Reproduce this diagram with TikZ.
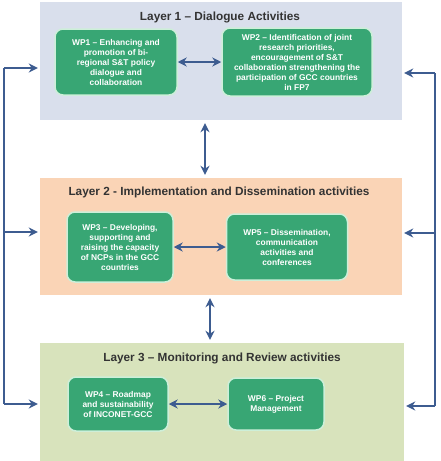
\documentclass[tikz,border=0pt]{standalone}
\usepackage{fontspec}
\setmainfont{Liberation Sans}
\usetikzlibrary{arrows.meta,positioning}
\definecolor{layerblue}{HTML}{D9DFEC}
\definecolor{layerpeach}{HTML}{FAD4B6}
\definecolor{layergreen}{HTML}{D8E3BC}
\definecolor{wpgreen}{HTML}{38A674}
\definecolor{wpedge}{HTML}{CDEFD9}
\definecolor{linkblue}{HTML}{3D5C90}
\tikzset{
  layer/.style={rectangle, draw=none, minimum width=362pt, inner sep=0pt},
  layertitle/.style={font=\bfseries\fontsize{11.8}{13}\selectfont, text=black!80},
  wp/.style={rectangle, rounded corners=8pt, fill=wpgreen, draw=wpedge, line width=1.5pt,
    text=white, align=center, inner sep=1pt, font=\bfseries\fontsize{8.4}{10}\selectfont},
  link/.style={draw=linkblue, line width=2.6pt},
  both/.style={link, {Stealth[length=9pt,width=9pt]}-{Stealth[length=9pt,width=9pt]}},
  into/.style={link, -{Stealth[length=9pt,width=9pt]}}
}
\begin{document}
\begin{tikzpicture}[x=1pt,y=-1pt]
  \useasboundingbox (0,0) rectangle (440,461);
  % layers
  \node[layer, fill=layerblue, minimum height=118pt] (layer1) at (221,61) {};
  \node[layer, fill=layerpeach, minimum height=117pt] (layer2) at (221,236.5) {};
  \node[layer, fill=layergreen, minimum width=364pt, minimum height=118pt] (layer3) at (222,402) {};
  \node[layertitle] (title1) at (220,17) {Layer 1 -- Dialogue Activities};
  \node[layertitle] (title2) at (219,192) {Layer 2 - Implementation and Dissemination activities};
  \node[layertitle] (title3) at (222,358) {Layer 3 -- Monitoring and Review activities};
  % work packages
  \node[wp, minimum width=122pt, minimum height=66pt] (wp1) at (116,62)
    {WP1 -- Enhancing and\\promotion of bi-\\regional S\&T policy\\dialogue and\\collaboration};
  \node[wp, minimum width=150pt, minimum height=68pt] (wp2) at (297,62)
    {WP2 -- Identification of joint\\research priorities,\\encouragement of S\&T\\collaboration strengthening the\\participation of GCC countries\\in FP7};
  \node[wp, minimum width=106pt, minimum height=70pt] (wp3) at (120,247)
    {WP3 -- Developing,\\supporting and\\raising the capacity\\of NCPs in the GCC\\countries};
  \node[wp, minimum width=121pt, minimum height=66pt] (wp5) at (287,247)
    {WP5 -- Dissemination,\\communication\\activities and\\conferences};
  \node[wp, minimum width=100pt, minimum height=54pt] (wp4) at (118,404)
    {WP4 -- Roadmap\\and sustainability\\of INCONET-GCC};
  \node[wp, minimum width=96pt, minimum height=52pt] (wp6) at (276,404)
    {WP6 -- Project\\Management};
  % helper points
  \coordinate (v1) at (205,0);
  \coordinate (v2) at (210,0);
  \coordinate (ll1) at (4,68);
  \coordinate (ll2) at (4,232);
  \coordinate (ll3) at (4,404);
  \coordinate (rr1) at (435,73);
  \coordinate (rr2) at (435,233);
  \coordinate (rr3) at (435,406);
  % links
  \draw[both] (wp1.east) -- (wp2.west);
  \draw[both] (wp3.east) -- (wp5.west);
  \draw[both] (wp4.east) -- (wp6.west);
  \draw[both, shorten <=3pt, shorten >=3pt] (layer1.south -| v1) -- (layer2.north -| v1);
  \draw[both, shorten <=3pt, shorten >=3pt] (layer2.south -| v2) -- (layer3.north -| v2);
  \draw[link] (ll1) -- (ll3);
  \draw[link] (rr1) -- (rr3);
  \draw[into, shorten >=2pt] (ll1) -- (ll1 -| layer1.west);
  \draw[into, shorten >=2pt] (ll2) -- (ll2 -| layer2.west);
  \draw[into, shorten >=2pt] (ll3) -- (ll3 -| layer3.west);
  \draw[into, shorten >=2pt] (rr1) -- (rr1 -| layer1.east);
  \draw[into, shorten >=2pt] (rr2) -- (rr2 -| layer2.east);
  \draw[into, shorten >=2pt] (rr3) -- (rr3 -| layer3.east);
\end{tikzpicture}
\end{document}
